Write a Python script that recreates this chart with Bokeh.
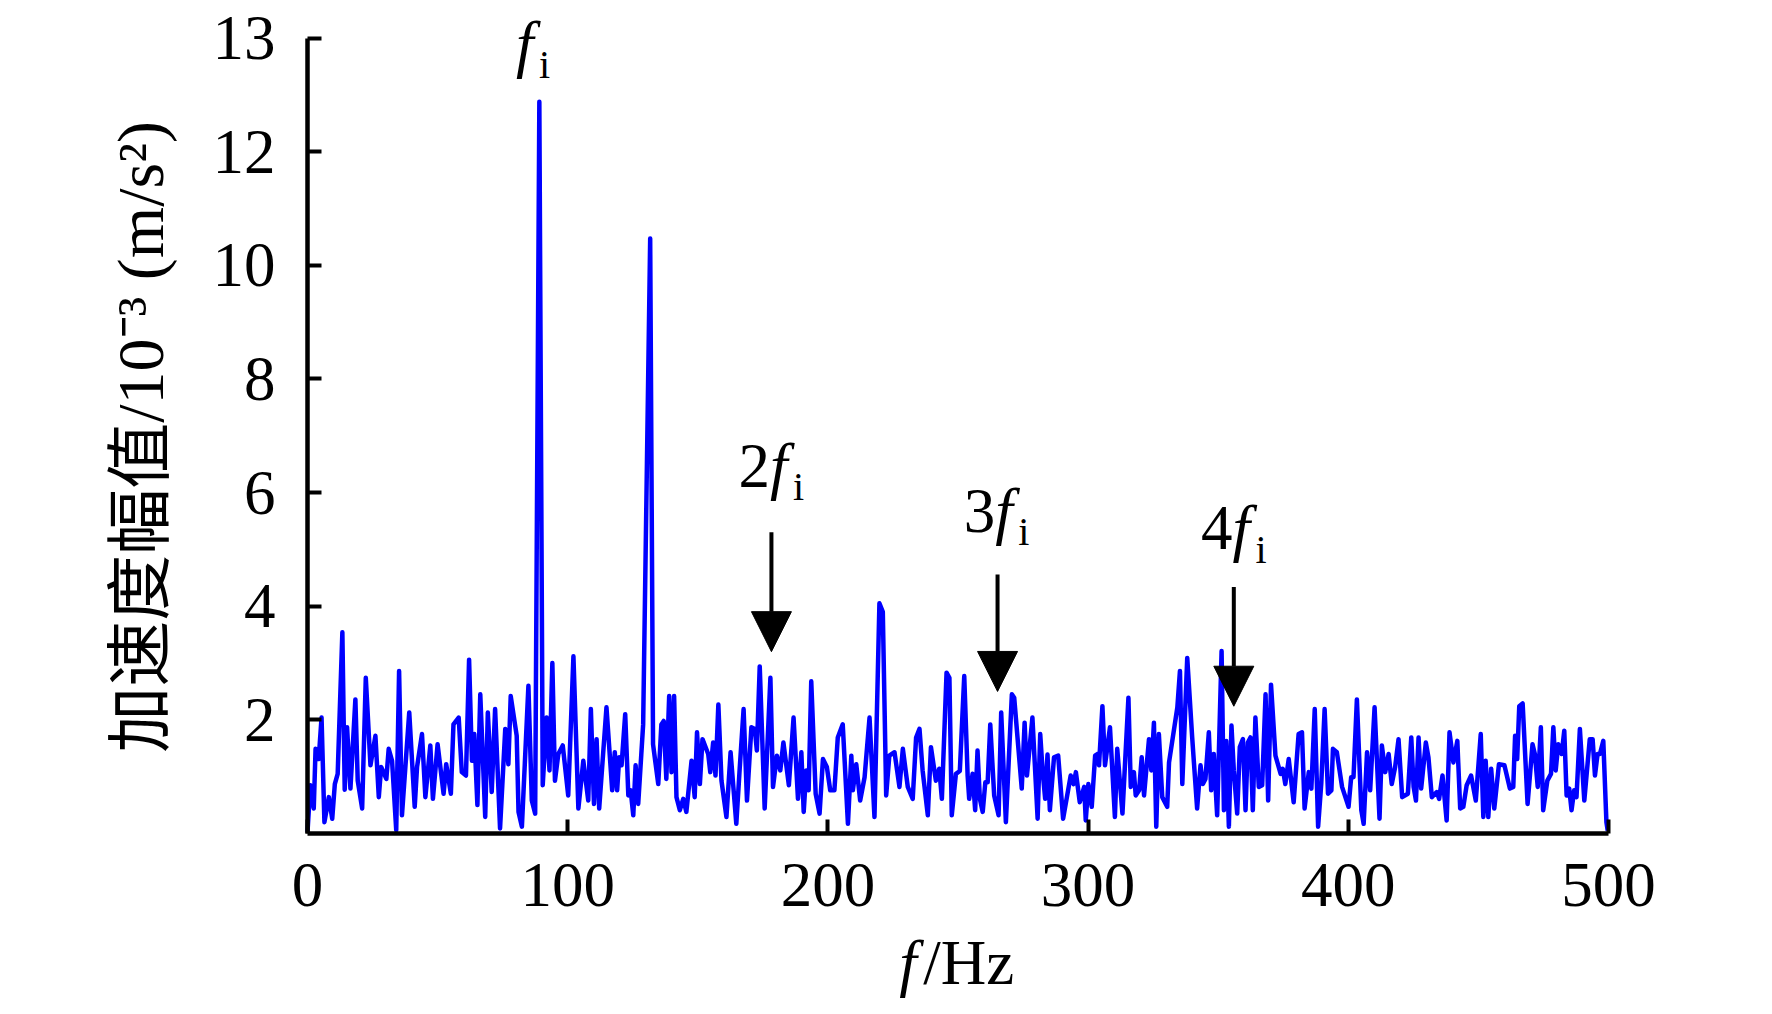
import math
from bokeh.plotting import figure
from bokeh.models import Range1d, Label, Arrow, NormalHead, FixedTicker
from bokeh.embed import file_html
from bokeh.resources import INLINE

# ---- data: frequency (Hz) and acceleration amplitude (10^-3 m/s^2, visual scale) ----
freq = [0.0, 1.1, 2.4, 3.1, 4.3, 5.4, 6.5, 8.2, 9.5, 10.5, 11.6, 13.4, 14.3, 15.2, 16.5, 18.4, 19.3,
        21.0, 22.4, 24.2, 26.1, 27.4, 28.3, 30.3, 31.2, 32.5, 34.1, 35.2, 36.3, 39.1, 41.2, 42.1,
        44.0, 45.3, 47.2, 48.2, 50.0, 52.3, 53.3, 55.1, 56.1, 58.1, 59.3, 60.9, 62.1, 63.2, 64.1,
        65.3, 66.4, 68.3, 69.3, 70.8, 72.1, 74.0, 76.0, 77.2, 78.1, 80.4, 81.1, 82.4, 84.9,
        86.2, 87.5, 89.1, 90.4, 91.9, 93.0, 94.1, 95.1, 96.4, 98.1, 100.2, 102.2, 104.1, 106.0,
        107.9, 108.9, 110.1, 111.1, 112.1, 114.9, 117.1, 118.1, 119.0, 119.8, 120.7, 122.1, 123.3,
        124.2, 125.2, 126.1, 127.1, 129.0, 131.7, 132.8, 134.8, 136.0, 136.9, 137.9, 139.0, 139.9,
        140.9, 141.8, 143.1, 144.4, 145.6, 147.6, 148.8, 149.7, 150.8, 151.8, 154.0, 154.8, 155.9,
        156.8, 157.9, 159.1, 161.0, 162.6, 164.8, 166.1, 167.6, 168.9,
        170.6, 171.9, 172.7, 173.8, 175.7, 177.9, 178.9, 180.4, 181.7, 182.9, 185.0, 186.8, 188.5,
        189.8, 190.7, 191.7, 192.6, 193.6, 195.3, 196.8, 198.1, 199.6, 200.9, 202.5, 203.8, 205.7,
        207.7, 209.0, 209.6, 210.9, 212.4, 214.1, 216.0, 217.9, 219.8, 221.1, 222.4, 223.6, 225.6,
        227.5, 228.8, 230.7, 232.6, 233.9, 235.2, 236.4, 238.4, 239.6, 241.5, 242.8, 243.8, 245.6,
        246.7, 247.6, 249.2, 250.7, 252.4,
        253.7, 254.3, 255.6, 256.6, 257.5, 258.4, 259.5, 260.5, 261.4, 262.4, 263.9, 265.6, 266.6,
        268.4, 270.7, 271.6, 274.5, 275.6, 276.5, 278.6, 280.6, 281.6, 282.5, 283.5, 284.4, 285.3,
        286.9, 288.5, 290.4, 293.3, 294.4, 295.3, 296.8, 298.5, 299.1, 300.1, 301.4, 302.7, 303.6,
        304.2, 305.5, 306.5, 308.4, 310.3, 311.2, 313.2, 315.5, 316.4, 317.6, 318.3, 319.6, 320.6,
        321.5, 323.4, 324.3, 325.3, 326.2, 327.2, 328.5, 330.4, 331.1, 334.3, 335.3, 336.2, 338.1,
        340.0, 341.9, 343.2, 344.1, 345.1, 346.4, 347.3, 348.3, 349.6, 351.3, 352.2, 353.1, 354.1,
        355.1, 356.0, 357.3, 358.3, 359.5, 360.5, 361.4, 362.4, 363.3, 364.3, 365.6, 366.9, 368.2,
        369.2, 370.3, 372.0, 374.0, 374.8, 375.8, 377.1, 379.0, 380.9, 382.2, 383.2, 384.8, 385.8,
        387.1, 388.4, 389.6, 390.9, 392.2, 393.5, 394.1, 395.6, 397.6, 400.1, 401.1, 402.0, 403.3,
        405.0, 405.9, 407.2, 408.4, 410.1, 412.0, 412.9, 414.2, 415.5, 416.7, 418.0, 419.3, 420.7,
        422.9, 424.2, 425.1, 426.0, 427.0, 428.0, 429.8, 430.8, 432.1, 434.0, 434.9, 436.2, 437.8,
        438.9, 440.4, 441.9, 443.0, 444.2, 445.5, 447.2, 449.0, 450.9, 451.9, 452.8, 453.8, 454.9,
        456.1, 457.9, 460.0, 462.1, 463.4, 464.1, 464.9, 465.7, 467.0, 468.9, 470.8, 471.7, 472.8,
        474.0, 474.9, 476.5, 477.9, 478.8, 479.7, 480.7, 482.0, 483.0, 483.9, 484.9, 485.8, 486.8,
        487.7, 489.0, 490.7, 492.8, 493.9, 494.8, 495.8, 496.7, 498.0, 499.2, 499.7]

amp = [0.03, 0.85, 0.44, 1.49, 1.31, 2.04, 0.20, 0.64, 0.26, 0.87, 1.05, 3.54, 0.77, 1.87, 0.79, 2.36, 0.93,
       0.44, 2.74, 1.20, 1.72, 0.64, 1.17, 0.96, 1.49, 1.28, 0.06, 2.86, 0.32, 2.13, 0.47, 1.17,
       1.75, 0.64, 1.55, 0.61, 1.57, 0.70, 1.22, 0.70, 1.92, 2.04, 1.08, 1.02, 3.06, 1.28, 1.75,
       0.50, 2.45, 0.29, 2.13, 0.73, 2.19, 0.09, 1.84, 1.22, 2.42, 1.72, 0.38, 0.12, 2.60,
       0.58, 0.35, 12.88, 0.85, 2.04, 1.11, 3.00, 0.93, 1.40, 1.55, 0.67, 3.12, 0.44, 1.28,
       0.58, 2.19, 0.52, 1.66, 0.44, 2.22, 0.76, 1.43, 0.76, 1.34, 1.20, 2.10, 0.67,
       0.76, 0.32, 1.20, 0.52, 1.92, 10.47, 1.57, 0.87, 1.92, 1.98, 0.96, 2.42, 1.08,
       2.42, 0.64, 0.41, 0.61, 0.38, 1.28, 0.64, 1.78, 0.87, 1.66, 1.40, 1.08, 1.60,
       1.02, 2.27, 0.93, 0.29, 1.43, 0.17, 1.14, 2.19, 0.58,
       1.87, 1.84, 1.46, 2.94, 0.44, 2.74, 0.82, 1.37, 1.11, 1.60, 0.85, 2.04, 0.61,
       1.43, 0.38, 1.11, 0.76, 2.68, 0.70, 0.35, 1.31, 1.17, 0.76, 0.76, 1.69, 1.92,
       0.17, 1.37, 0.76, 1.22, 0.58, 0.99, 2.04, 0.29, 4.05, 3.90, 0.67, 1.37, 1.43,
       0.82, 1.49, 0.82, 0.61, 1.69, 1.84, 1.11, 0.32, 1.52, 0.93, 1.14, 0.61, 2.83,
       2.74, 0.32, 1.05, 1.10, 2.77,
       1.02, 0.61, 1.05, 0.41, 1.46, 0.61, 0.38, 0.90, 0.90, 1.92, 0.67, 0.32, 2.13,
       0.20, 2.45, 2.39, 0.79, 1.95, 1.02, 2.04, 0.26, 1.75, 1.11, 0.61, 1.39, 0.41,
       1.34, 1.37, 0.26, 1.02, 0.87, 1.08, 0.55, 0.82, 0.23, 0.87, 0.47, 1.37, 1.40,
       1.20, 2.24, 1.20, 1.87, 0.29, 1.49, 0.35, 2.39, 0.82, 1.08, 0.67, 0.76, 1.34,
       0.67, 1.66, 1.11, 1.95, 0.12, 1.75, 0.64, 0.47, 1.25, 2.22, 2.86, 0.87, 3.09,
       1.69, 0.44, 1.20, 0.87, 0.96, 1.78, 0.76, 1.40, 0.32, 3.21, 0.41, 1.63, 0.12,
       1.90, 1.11, 0.35, 1.52, 1.66, 0.41, 1.60, 1.69, 0.41, 2.04, 0.82, 0.85, 2.45,
       0.58, 2.62, 1.37, 1.05, 1.14, 0.87, 1.31, 0.55, 1.75, 1.78, 0.44, 1.08, 0.79,
       2.19, 0.12, 0.87, 2.19, 0.70, 0.76, 1.49, 1.43, 0.82, 0.47, 0.99, 0.99, 2.36,
       0.41, 0.17, 1.43, 0.76, 2.22, 0.26, 1.55, 1.08, 1.40, 0.87, 1.17, 1.66, 0.64,
       0.70, 1.69, 0.82, 0.58, 1.69, 0.79, 1.60, 1.34, 0.64, 0.73, 0.61, 1.02, 0.23,
       1.78, 1.25, 1.63, 0.44, 0.47, 0.85, 1.02, 0.58, 1.75, 0.29, 1.28, 0.29, 1.14,
       0.44, 1.22, 1.20, 0.79, 0.82, 1.72, 1.31, 2.24, 2.29, 0.52, 1.57, 1.40, 0.82,
       1.87, 0.41, 0.93, 1.05, 1.87, 1.11, 1.57, 1.40, 1.81, 0.67, 0.79, 0.41, 0.76,
       0.64, 1.84, 0.58, 1.66, 1.66, 1.02, 1.40, 1.40, 1.63, 0.20, 0.05]

x_ticks = [0, 100, 200, 300, 400, 500]
y_ticks = [2, 4, 6, 8, 10, 12, 14]
y_tick_labels = {14: "13"}

# harmonic annotations
label_prefix = ["", "2", "3", "4"]
label_x = [81.7, 179.3, 265.9, 357.0]
label_y = [13.39, 5.96, 5.17, 4.86]
arrow_x = [178.3, 265.2, 356.0]
arrow_tail = [5.30, 4.56, 4.34]
arrow_tip = [3.20, 2.50, 2.24]

x_label_pos = (227.4, -2.68)
y_label_pos = (-64.1, 6.98)

# ---- layout: the frame covers the whole canvas, axes are pinned at 0 ----
W, H = 1756, 998
AX_LEFT, AX_RIGHT = 307.0, 1608.0     # pixel columns of 0 Hz and 500 Hz
AX_TOP, AX_BOTTOM = 37.5, 833.0       # pixel rows of y=14 and y=0
px_hz = (AX_RIGHT - AX_LEFT) / 500.0
px_y = (AX_BOTTOM - AX_TOP) / 14.0
x_rng = Range1d(-AX_LEFT / px_hz, (W - AX_LEFT) / px_hz)
y_rng = Range1d(-(H - AX_BOTTOM) / px_y, AX_BOTTOM / px_y)

TEXT_DY = 29    # lift for annotation baselines
XLAB_DY = 23    # lift for the x-axis title
SUB_DY = -21    # subscript drop
SERIF = "Liberation Serif"
CJK = "Liberation Serif, Noto Sans CJK SC"

p = figure(width=W, height=H, output_backend="svg", toolbar_location=None,
           x_range=x_rng, y_range=y_rng, min_border=0)
p.outline_line_color = None
p.xgrid.visible = False
p.ygrid.visible = False
p.background_fill_color = "white"
p.border_fill_color = "white"

p.line(freq, amp, line_color="#0000FF", line_width=4.5, line_join="round")

for ax in (p.xaxis[0], p.yaxis[0]):
    ax.fixed_location = 0
    ax.axis_line_color = "black"
    ax.axis_line_width = 4.5
    ax.major_tick_line_color = "black"
    ax.major_tick_line_width = 4
    ax.major_tick_in = 14
    ax.major_tick_out = 0
    ax.minor_tick_line_color = None
    ax.major_label_text_font = SERIF
    ax.major_label_text_font_size = "63px"
    ax.major_label_text_color = "black"

p.xaxis[0].bounds = (0, 500)
p.yaxis[0].bounds = (0, 14)
p.xaxis[0].ticker = FixedTicker(ticks=x_ticks)
p.yaxis[0].ticker = FixedTicker(ticks=y_ticks)
p.yaxis[0].major_label_overrides = y_tick_labels
p.xaxis[0].major_label_standoff = 30
p.yaxis[0].major_label_standoff = 32

# axis titles
p.add_layout(Label(x=x_label_pos[0], y=x_label_pos[1], y_offset=XLAB_DY, text="f", text_font=SERIF,
                   text_font_style="italic", text_font_size="63px", text_align="left",
                   text_baseline="alphabetic", text_color="black"))
p.add_layout(Label(x=x_label_pos[0], y=x_label_pos[1], x_offset=24, y_offset=XLAB_DY, text="/Hz",
                   text_font=SERIF, text_font_size="63px", text_align="left",
                   text_baseline="alphabetic", text_color="black"))
p.add_layout(Label(x=y_label_pos[0], y=y_label_pos[1], text="加速度幅值/10⁻³ (m/s²)",
                   text_font=CJK, text_font_size="66px", angle=math.pi / 2,
                   text_align="center", text_baseline="middle", text_color="black"))

# harmonic labels
for pre, lx, ly in zip(label_prefix, label_x, label_y):
    if pre:
        p.add_layout(Label(x=lx, y=ly, x_offset=-4, y_offset=TEXT_DY, text=pre, text_font=SERIF,
                           text_font_size="63px", text_align="right",
                           text_baseline="alphabetic", text_color="black"))
    p.add_layout(Label(x=lx, y=ly, x_offset=-4, y_offset=TEXT_DY, text="f", text_font=SERIF,
                       text_font_style="italic", text_font_size="63px", text_align="left",
                       text_baseline="alphabetic", text_color="black"))
    p.add_layout(Label(x=lx, y=ly, x_offset=19, y_offset=TEXT_DY + SUB_DY, text="i", text_font=SERIF,
                       text_font_size="40px", text_align="left",
                       text_baseline="alphabetic", text_color="black"))

for ax_, t0, t1 in zip(arrow_x, arrow_tail, arrow_tip):
    p.add_layout(Arrow(end=NormalHead(size=40, fill_color="black", line_color="black", line_width=1),
                       x_start=ax_, y_start=t0, x_end=ax_, y_end=t1,
                       line_color="black", line_width=4))

open("out.html", "w").write(file_html(p, INLINE))
